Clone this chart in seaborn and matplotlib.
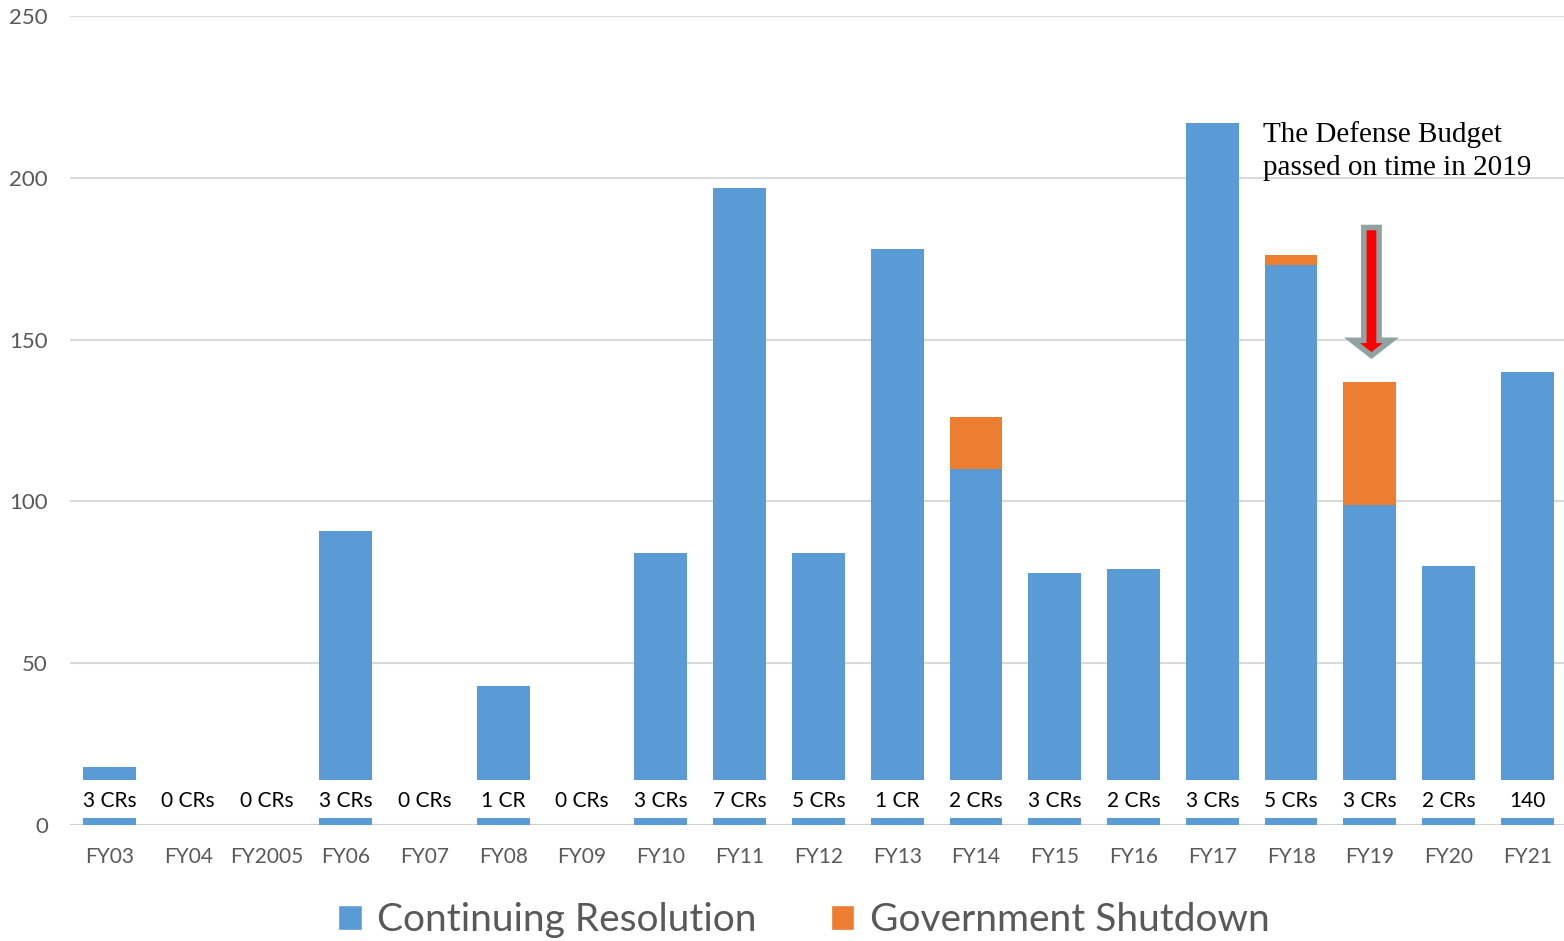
import numpy as np
import matplotlib
matplotlib.use("Agg")
import matplotlib.pyplot as plt
from matplotlib.patches import Patch, FancyArrowPatch
import seaborn as sns

# data
fiscal_years = ['FY03', 'FY04', 'FY2005', 'FY06', 'FY07', 'FY08', 'FY09', 'FY10', 'FY11', 'FY12',
                'FY13', 'FY14', 'FY15', 'FY16', 'FY17', 'FY18', 'FY19', 'FY20', 'FY21']
cr_days = [18, 0, 0, 91, 0, 43, 0, 84, 197, 84, 178, 110, 78, 79, 217, 173, 99, 80, 140]
shutdown_days = [0, 0, 0, 0, 0, 0, 0, 0, 0, 0, 0, 16, 0, 0, 0, 3, 38, 0, 0]
cr_labels = ['3 CRs', '0 CRs', '0 CRs', '3 CRs', '0 CRs', '1 CR', '0 CRs', '3 CRs', '7 CRs', '5 CRs',
             '1 CR', '2 CRs', '3 CRs', '2 CRs', '3 CRs', '5 CRs', '3 CRs', '2 CRs', '140']
y_ticks = [0, 50, 100, 150, 200, 250]

BLUE = '#5B9BD5'
ORANGE = '#ED7D31'
GREY_TEXT = '#595959'

sns.set_style('white')
plt.rcParams['font.family'] = ['Lato', 'DejaVu Sans']

fig = plt.figure(figsize=(15.64, 9.41), dpi=100)
ax = fig.add_axes([0.0448, 0.1233, 0.957, 0.8597])

total_days = [c + s for c, s in zip(cr_days, shutdown_days)]

# stacked bars: total (orange) first, CR part (blue) over it
sns.barplot(x=fiscal_years, y=total_days, color=ORANGE, width=0.67, saturation=1,
            linewidth=0, edgecolor='none', ax=ax, zorder=2)
sns.barplot(x=fiscal_years, y=cr_days, color=BLUE, width=0.67, saturation=1,
            linewidth=0, edgecolor='none', ax=ax, zorder=3)

# white label band near the base of every bar
x = np.arange(len(fiscal_years))
ax.bar(x, 11.7, bottom=2.2, width=0.7, color='white', linewidth=0, zorder=4)
for xi, lab in zip(x, cr_labels):
    ax.text(xi, 7.3, lab, ha='center', va='center', fontsize=15, color='black', zorder=5)

ax.set_xlim(-0.5, 18.5)
ax.set_ylim(0, 250)
ax.set_yticks(y_ticks)
ax.yaxis.grid(True, color='#D9D9D9', linewidth=1.5, zorder=0)
ax.set_axisbelow(True)
ax.axhline(0, color='#D0D0D0', linewidth=2, zorder=1)
for s in ax.spines.values():
    s.set_visible(False)
ax.tick_params(axis='both', length=0, labelsize=15, labelcolor=GREY_TEXT)
ax.tick_params(axis='y', labelsize=16, pad=16)
ax.tick_params(axis='x', pad=16)

# annotation and arrow for FY19
ax.text(14.64, 217.5, 'The Defense Budget\npassed on time in 2019', ha='left', va='top',
        fontsize=21, family='Liberation Serif', color='black', linespacing=1.35, zorder=6)
arrow = FancyArrowPatch((16.02, 185.5), (16.02, 144.2),
                        arrowstyle='simple,head_width=28,head_length=11,tail_width=11',
                        mutation_scale=1, fc='red', ec='#8FA3A3', lw=4, joinstyle='miter', zorder=6)
ax.add_patch(arrow)

ax.set_xlabel('')
ax.set_ylabel('')

handles = [Patch(facecolor=BLUE, label='Continuing Resolution'),
           Patch(facecolor=ORANGE, label='Government Shutdown')]
leg = fig.legend(handles=handles, loc='center', bbox_to_anchor=(0.514, 0.022), ncol=2,
                 frameon=False, fontsize=28, handlelength=0.6, handleheight=0.6,
                 handletextpad=0.4, columnspacing=1.9)
for t in leg.get_texts():
    t.set_color(GREY_TEXT)

fig.savefig('out.png', dpi=100)
